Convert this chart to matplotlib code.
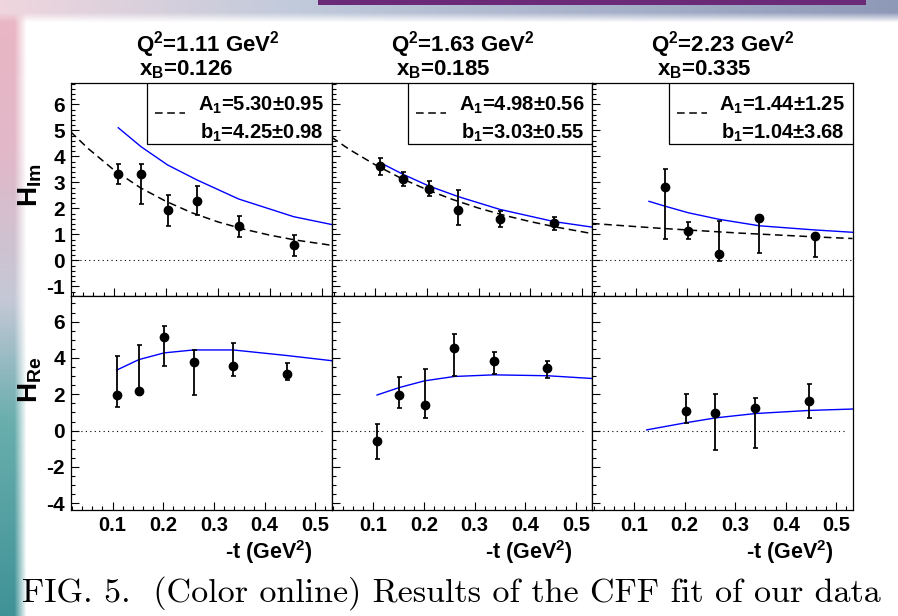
import numpy as np
import matplotlib
matplotlib.use('Agg')
import matplotlib.pyplot as plt
from matplotlib.ticker import MultipleLocator, FixedLocator, NullFormatter
from matplotlib.patches import Rectangle
from matplotlib.colors import to_rgb

plt.rcParams['font.family'] = ['Liberation Sans', 'DejaVu Sans']
plt.rcParams['font.weight'] = 'bold'
plt.rcParams['mathtext.fontset'] = 'custom'
plt.rcParams['mathtext.rm'] = 'Liberation Sans:bold'
plt.rcParams['mathtext.it'] = 'Liberation Sans:bold'
plt.rcParams['mathtext.bf'] = 'Liberation Sans:bold'
plt.rcParams['axes.unicode_minus'] = False

# ---------------- data ----------------
q2_labels = ['1.11', '1.63', '2.23']
xb_labels = ['0.126', '0.185', '0.335']
A1_text = ['5.30\u00b10.95', '4.98\u00b10.56', '1.44\u00b11.25']
b1_text = ['4.25\u00b10.98', '3.03\u00b10.55', '1.04\u00b13.68']

# H_Im data points
t_im_1 = [0.108, 0.152, 0.203, 0.260, 0.340, 0.446]
him_1 = [3.33, 3.33, 1.94, 2.29, 1.32, 0.59]
him_1_up = [0.38, 0.39, 0.57, 0.57, 0.40, 0.38]
him_1_dn = [0.38, 1.16, 0.61, 0.56, 0.42, 0.41]

t_im_2 = [0.110, 0.154, 0.204, 0.261, 0.341, 0.446]
him_2 = [3.63, 3.14, 2.76, 1.94, 1.60, 1.42]
him_2_up = [0.32, 0.27, 0.30, 0.78, 0.31, 0.26]
him_2_dn = [0.34, 0.28, 0.30, 0.59, 0.32, 0.25]

t_im_3 = [0.156, 0.202, 0.261, 0.339, 0.446]
him_3 = [2.83, 1.14, 0.26, 1.62, 0.95]
him_3_up = [0.67, 0.32, 1.27, 0.12, 0.08]
him_3_dn = [2.00, 0.33, 0.29, 1.33, 0.81]

# H_Re data points
t_re_1 = [0.108, 0.152, 0.202, 0.260, 0.338, 0.445]
hre_1 = [1.94, 2.19, 5.15, 3.80, 3.54, 3.11]
hre_1_up = [2.19, 2.50, 0.59, 0.64, 1.27, 0.61]
hre_1_dn = [0.64, 0.25, 1.59, 1.84, 0.52, 0.35]

t_re_2 = [0.107, 0.151, 0.201, 0.260, 0.338, 0.444]
hre_2 = [-0.59, 1.98, 1.41, 4.56, 3.85, 3.44]
hre_2_up = [0.98, 0.98, 1.98, 0.75, 0.50, 0.37]
hre_2_dn = [0.98, 0.72, 0.74, 1.58, 0.74, 0.57]

t_re_3 = [0.202, 0.261, 0.340, 0.446]
hre_3 = [1.07, 0.98, 1.22, 1.63]
hre_3_up = [0.95, 1.04, 0.58, 0.93]
hre_3_dn = [0.64, 2.04, 2.15, 0.96]

# model curves (blue)
t_mod_im_1 = [0.108, 0.152, 0.203, 0.260, 0.340, 0.446, 0.519]
mod_im_1 = [5.10, 4.37, 3.67, 3.09, 2.36, 1.68, 1.38]
t_mod_im_2 = [0.110, 0.154, 0.204, 0.261, 0.341, 0.446, 0.519]
mod_im_2 = [3.76, 3.31, 2.86, 2.45, 1.96, 1.49, 1.28]
t_mod_im_3 = [0.126, 0.156, 0.202, 0.261, 0.339, 0.446, 0.519]
mod_im_3 = [2.27, 2.09, 1.83, 1.58, 1.33, 1.17, 1.08]

t_mod_re_1 = [0.108, 0.152, 0.202, 0.260, 0.338, 0.445, 0.532]
mod_re_1 = [3.33, 3.91, 4.28, 4.44, 4.44, 4.13, 3.85]
t_mod_re_2 = [0.107, 0.151, 0.201, 0.260, 0.338, 0.444, 0.532]
mod_re_2 = [1.96, 2.37, 2.74, 2.98, 3.07, 3.02, 2.87]
t_mod_re_3 = [0.125, 0.202, 0.261, 0.340, 0.446, 0.534]
mod_re_3 = [0.04, 0.43, 0.70, 0.94, 1.11, 1.19]

# fit curves (dashed)
t_fit = [0.016, 0.05, 0.10, 0.15, 0.20, 0.25, 0.30, 0.35, 0.40, 0.45, 0.519]
fit_1 = [4.95, 4.30, 3.47, 2.80, 2.27, 1.83, 1.48, 1.20, 0.97, 0.78, 0.58]
fit_2 = [4.74, 4.27, 3.68, 3.16, 2.72, 2.34, 2.01, 1.73, 1.49, 1.28, 1.03]
fit_3 = [1.42, 1.37, 1.30, 1.23, 1.17, 1.11, 1.05, 1.00, 0.95, 0.90, 0.84]

x_ticks = [0.1, 0.2, 0.3, 0.4, 0.5]
x_tick_labels = ['0.1', '0.2', '0.3', '0.4', '0.5']

im_panels = [
    (t_im_1, him_1, him_1_up, him_1_dn, t_mod_im_1, mod_im_1, fit_1),
    (t_im_2, him_2, him_2_up, him_2_dn, t_mod_im_2, mod_im_2, fit_2),
    (t_im_3, him_3, him_3_up, him_3_dn, t_mod_im_3, mod_im_3, fit_3),
]
re_panels = [
    (t_re_1, hre_1, hre_1_up, hre_1_dn, t_mod_re_1, mod_re_1),
    (t_re_2, hre_2, hre_2_up, hre_2_dn, t_mod_re_2, mod_re_2),
    (t_re_3, hre_3, hre_3_up, hre_3_dn, t_mod_re_3, mod_re_3),
]

# ---------------- figure ----------------
W, H = 898, 616
fig = plt.figure(figsize=(W / 100, H / 100), dpi=100)

# background decoration (page gradient at left and top)
bg = fig.add_axes([0, 0, 1, 1], zorder=-10)
bg.set_axis_off()
img = np.ones((H, W, 3))
yy = np.arange(H)[:, None]
xx = np.arange(W)[None, :]
stops_y = [0, 150, 300, 420, 616]
cols_y = [to_rgb('#eab6c4'), to_rgb('#e2b8c8'), to_rgb('#c4c8d6'), to_rgb('#6aaeae'), to_rgb('#3f9296')]
left_col = np.array([[np.interp(y, stops_y, [c[k] for c in cols_y]) for k in range(3)] for y in range(H)])
a_left = np.clip((26 - xx) / 12.0, 0, 1)
img = img * (1 - a_left[..., None]) + left_col[:, None, :] * a_left[..., None]
stops_x = [0, 300, 898]
cols_x = [to_rgb('#f0d6de'), to_rgb('#c0cadb'), to_rgb('#8e99b8')]
top_col = np.array([[np.interp(x, stops_x, [c[k] for c in cols_x]) for k in range(3)] for x in range(W)])
a_top = np.clip((22 - yy) / 10.0, 0, 1)
img = img * (1 - a_top[..., None]) + top_col[None, :, :] * a_top[..., None]
img[0:5, 318:866] = to_rgb('#6b2a78')
bg.imshow(img, extent=[0, 1, 0, 1], aspect='auto', interpolation='bilinear')
bg.set_xlim(0, 1)
bg.set_ylim(0, 1)

cols_px = [(70.5, 331.5), (331.5, 592), (592, 852.5)]
top_row = (83, 296)
bot_row = (296, 510)

def make_ax(col, row):
    x0, x1 = col
    y0, y1 = row
    return fig.add_axes([x0 / W, (H - y1) / H, (x1 - x0) / W, (y1 - y0) / H])

def style_ax(ax, xlim, ylim, ymaj, ymin, show_y, show_x):
    ax.set_xlim(*xlim)
    ax.set_ylim(*ylim)
    ax.xaxis.set_major_locator(FixedLocator(x_ticks))
    ax.xaxis.set_minor_locator(MultipleLocator(0.02))
    ax.yaxis.set_major_locator(MultipleLocator(ymaj))
    ax.yaxis.set_minor_locator(MultipleLocator(ymin))
    ax.tick_params(which='both', direction='in', top=False, right=False, width=0.8)
    ax.tick_params(which='major', length=6.0)
    ax.tick_params(which='minor', length=3.0)
    ax.tick_params(axis='y', labelsize=15, pad=4)
    ax.tick_params(axis='x', labelsize=14.5, pad=4)
    if show_x:
        ax.set_xticklabels(x_tick_labels)
    else:
        ax.xaxis.set_major_formatter(NullFormatter())
    if not show_y:
        ax.yaxis.set_major_formatter(NullFormatter())
    for s in ax.spines.values():
        s.set_linewidth(0.9)
        s.set_color('black')
    for lab in ax.get_xticklabels() + ax.get_yticklabels():
        lab.set_fontweight('bold')

xlim_top = (0.016, 0.519)
xlim_bot = (0.017, 0.532)

for i in range(3):
    # ---- top: H_Im ----
    t, y, up, dn, tm, m, fit = im_panels[i]
    ax = make_ax(cols_px[i], top_row)
    style_ax(ax, xlim_top, (-1.37, 6.82), 1, 0.2, i == 0, False)
    ax.plot([xlim_top[0], xlim_top[1]], [0, 0], color='black', lw=0.8,
            dashes=(1, 3))
    ln, = ax.plot(t_fit, fit, color='black', lw=1.1)
    ln.set_dashes((5, 3))
    ax.plot(tm, m, color='#0000ff', lw=1.0)
    ax.errorbar(t, y, yerr=[dn, up], fmt='o', color='black', ms=6,
                capsize=1.8, elinewidth=1.3, capthick=1.2, zorder=5)
    # legend box
    ax.add_patch(Rectangle((0.295, 0.715), 0.705, 0.285, transform=ax.transAxes,
                           facecolor='white', edgecolor='black', lw=0.9, zorder=8))
    lg, = ax.plot([0.325, 0.44], [0.858, 0.858], transform=ax.transAxes,
                  color='black', lw=1.1, zorder=9)
    lg.set_dashes((5, 3))
    ax.text(0.97, 0.895, 'A$_{1}$=' + A1_text[i], transform=ax.transAxes,
            ha='right', va='center', fontsize=14.5, fontweight='bold', zorder=9)
    ax.text(0.97, 0.765, 'b$_{1}$=' + b1_text[i], transform=ax.transAxes,
            ha='right', va='center', fontsize=14.5, fontweight='bold', zorder=9)

    # ---- bottom: H_Re ----
    t, y, up, dn, tm, m = re_panels[i]
    ax2 = make_ax(cols_px[i], bot_row)
    style_ax(ax2, xlim_bot, (-4.37, 7.41), 2, 0.5, i == 0, True)
    ax2.plot([xlim_bot[0] + 0.003, 0.515], [0, 0], color='black', lw=0.8,
             dashes=(1, 3))
    ax2.plot(tm, m, color='#0000ff', lw=1.0)
    ax2.errorbar(t, y, yerr=[dn, up], fmt='o', color='black', ms=6,
                 capsize=1.8, elinewidth=1.3, capthick=1.2, zorder=5)

    # x-axis title
    x_right = cols_px[i][1] - 19
    fig.text(x_right / W, (H - 552) / H, '-t (GeV$^{2}$)', ha='right', va='center',
             fontsize=15.5, fontweight='bold')

    # column titles
    q_x = [136, 391, 651][i]
    xb_x = [139, 396, 657][i]
    fig.text(q_x / W, (H - 45) / H, 'Q$^{2}$=' + q2_labels[i] + ' GeV$^{2}$',
             ha='left', va='center', fontsize=16, fontweight='bold')
    fig.text(xb_x / W, (H - 70) / H, 'x$_{B}$=' + xb_labels[i],
             ha='left', va='center', fontsize=16, fontweight='bold')

# y-axis titles
fig.text(30 / W, (H - 185) / H, '$H_{Im}$', rotation=90, ha='center', va='center',
         fontsize=20, fontweight='bold')
fig.text(30 / W, (H - 380) / H, '$H_{Re}$', rotation=90, ha='center', va='center',
         fontsize=20, fontweight='bold')

# caption
fig.text(22 / W, (H - 593) / H,
         'FIG. 5.  (Color online) Results of the CFF fit of our data',
         family='cmr10', fontweight='normal', fontsize=24.5, ha='left', va='center')

fig.savefig('out.png', dpi=100)
